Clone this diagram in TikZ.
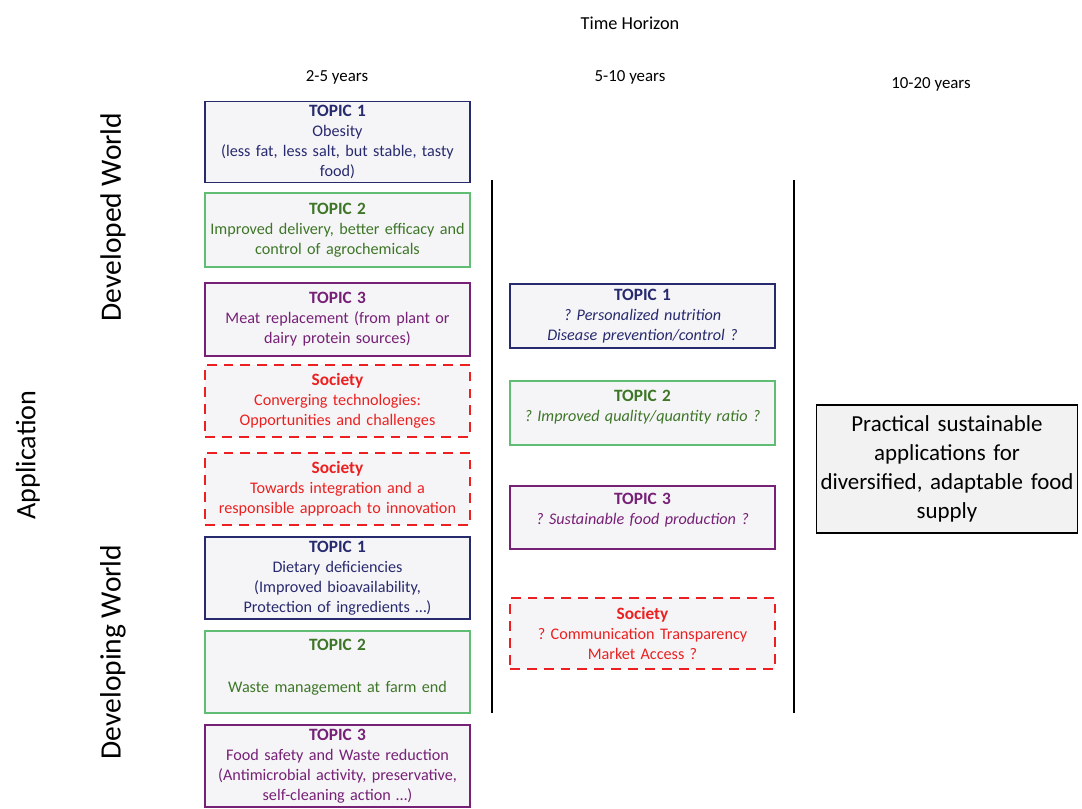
\documentclass[tikz,border=0pt]{standalone}
\usepackage{fontspec}
\setmainfont{Carlito}
\usepackage{xcolor}
\usepackage{tikz}
\usetikzlibrary{shapes}
\frenchspacing
\definecolor{topicblue}{RGB}{40,42,110}
\definecolor{topicgreenline}{RGB}{95,190,115}
\definecolor{topicgreen}{RGB}{62,118,40}
\definecolor{topicpurple}{RGB}{118,32,118}
\definecolor{societyred}{RGB}{236,32,32}
\definecolor{boxgray}{RGB}{245,245,247}
\newcommand{\hd}[1]{{\fontsize{12.3}{14.2}\selectfont\textbf{#1}}}
\tikzstyle{block} = [rectangle, draw, line width=1.3pt, fill=boxgray, text centered, text width=6.5cm, minimum width=6.625cm, inner xsep=1pt, inner ysep=1pt, font=\fontsize{11.5}{14.2}\selectfont]
\tikzstyle{topicone} = [block, draw=topicblue, text=topicblue]
\tikzstyle{topictwo} = [block, draw=topicgreenline, text=topicgreen]
\tikzstyle{topicthree} = [block, draw=topicpurple, text=topicpurple]
\tikzstyle{society} = [block, draw=societyred, text=societyred, line width=1.8pt, dash pattern=on 7pt off 5pt]
\tikzstyle{horizon} = [font=\fontsize{12}{14}\selectfont]
\tikzstyle{world} = [rotate=90, font=\fontsize{21}{24}\selectfont]
\tikzstyle{divider} = [draw, line width=2pt]

\begin{document}
\begin{tikzpicture}[x=0.025cm, y=-0.025cm]
\useasboundingbox (0,0) rectangle (1082,808);

% time axis
\node [horizon, font=\fontsize{13}{15}\selectfont] (th) at (630,23) {Time Horizon};
\node [horizon] (y1) at (337,77) {2-5 years};
\node [horizon] (y2) at (630,77) {5-10 years};
\node [horizon] (y3) at (931,84) {10-20 years};

% side labels
\node [world, font=\fontsize{20}{24}\selectfont] (app) at (28,455) {Application};
\node [world] (dev1) at (113,217) {Developed World};
\node [world] (dev2) at (113,652) {Developing World};

% 2-5 years
\node [topicone, minimum height=2.025cm] (p1) at (337.5,142) {\hd{TOPIC 1}\\Obesity\\(less fat, less salt, but stable, tasty\\food)};
\node [topictwo, minimum height=1.85cm] (p2) at (337.5,230) {\hd{TOPIC 2}\\Improved delivery, better efficacy and\\control of agrochemicals};
\node [topicthree, minimum height=1.825cm] (p3) at (337.5,319.5) {\hd{TOPIC 3}\\Meat replacement (from plant or\\dairy protein sources)};
\node [society, minimum height=1.8cm] (p4) at (337.5,401) {\hd{Society}\\Converging technologies:\\Opportunities and challenges};
\node [society, minimum height=1.8cm] (p5) at (337.5,489) {\hd{Society}\\Towards integration and a\\responsible approach to innovation};
\node [topicone, minimum height=2.05cm] (p6) at (337.5,578) {\hd{TOPIC 1}\\Dietary deficiencies\\(Improved bioavailability,\\Protection of ingredients \dots)};
\node [topictwo, minimum height=2.05cm] (p7) at (337.5,672) {\hd{TOPIC 2}\\[16pt]Waste management at farm end\\[-5.6pt]\mbox{}};
\node [topicthree, minimum height=2.05cm] (p8) at (337.5,766) {\hd{TOPIC 3}\\Food safety and Waste reduction\\(Antimicrobial activity, preservative,\\self-cleaning action \dots)};

% 5-10 years
\node [topicone, minimum height=1.6cm] (q1) at (642.5,316) {\hd{TOPIC 1}\\\textit{? Personalized nutrition}\\\textit{Disease prevention/control ?}};
\node [topictwo, minimum height=1.6cm] (q2) at (642.5,413) {\hd{TOPIC 2}\\\textit{? Improved quality/quantity ratio ?}\\[-4pt]\mbox{}};
\node [topicthree, minimum height=1.575cm] (q3) at (642.5,517.5) {\hd{TOPIC 3}\\\textit{? Sustainable food production ?}\\[-2pt]\mbox{}};
\node [society, minimum height=1.775cm] (q4) at (642.5,633.5) {\hd{Society}\\? Communication Transparency\\Market Access ?};

% 10-20 years
\node [block, draw=black, fill=gray!10, line width=1.2pt, text width=6.45cm, minimum width=6.5cm, minimum height=3.2cm, font=\fontsize{16.3}{20.6}\selectfont] (r1) at (947,469) {Practical sustainable\\applications for\\diversified, adaptable food\\supply};

% dividers
\coordinate (d1top) at (492,180);
\coordinate (d1bot) at (492,713);
\coordinate (d2top) at (794,180);
\coordinate (d2bot) at (794,713);
\path [divider] (d1top) -- (d1bot);
\path [divider] (d2top) -- (d2bot);
\end{tikzpicture}
\end{document}
